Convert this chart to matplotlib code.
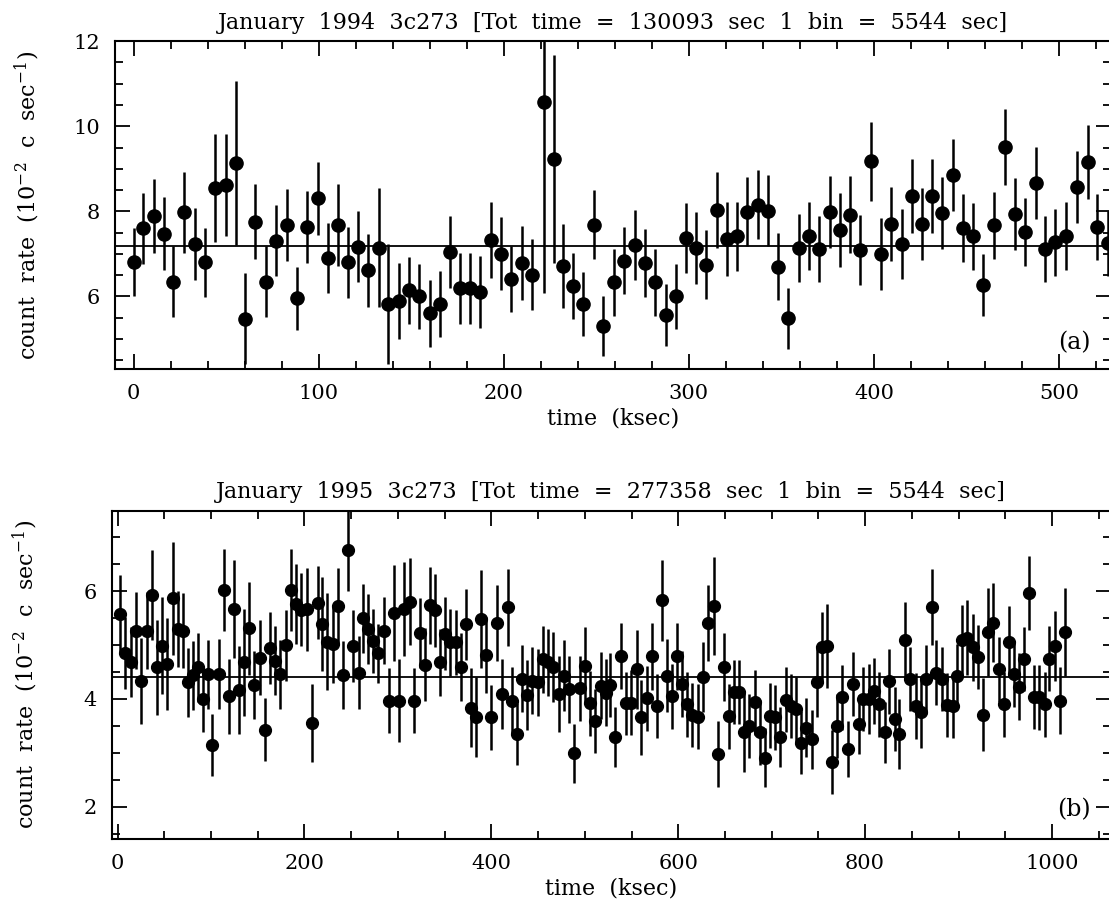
import matplotlib
matplotlib.use("Agg")
import matplotlib.pyplot as plt
from matplotlib.ticker import MultipleLocator

plt.rcParams["font.family"] = ["DejaVu Serif"]
plt.rcParams["mathtext.fontset"] = "dejavuserif"

# --- January 1994 light curve (ksec, 1e-2 c/s) ---
t_94 = [0.0, 5.1, 10.8, 16.2, 21.6, 27.4, 33.2, 38.6, 44.0, 49.7,
        55.4, 60.0, 65.8, 71.6, 77.1, 82.7, 88.3, 93.9, 99.5, 105.1,
        110.5, 115.7, 121.1, 126.7, 132.4, 137.3, 143.2, 148.9, 154.4, 160.0,
        165.4, 171.2, 176.6, 182.0, 187.4, 193.2, 198.6, 204.0, 209.7, 215.1,
        221.6, 227.0, 232.1, 237.5, 242.9, 248.6, 253.7, 259.5, 265.2, 270.8,
        276.2, 281.6, 287.4, 292.8, 298.6, 304.0, 309.4, 315.0, 320.4, 325.8,
        331.6, 337.3, 342.9, 348.1, 353.5, 359.3, 364.9, 370.5, 376.1, 381.6,
        387.0, 392.4, 398.6, 403.6, 409.4, 415.0, 420.8, 426.2, 431.6, 437.0,
        442.7, 448.1, 453.7, 459.1, 464.9, 470.8, 476.2, 481.6, 487.4, 492.4,
        497.8, 503.6, 509.6, 515.4, 520.4, 526.2]
rate_94 = [6.80, 7.60, 7.88, 7.47, 6.35, 7.98, 7.23, 6.80, 8.54, 8.62,
           9.14, 5.48, 7.76, 6.35, 7.31, 7.68, 5.96, 7.63, 8.31, 6.90,
           7.68, 6.80, 7.17, 6.61, 7.15, 5.82, 5.89, 6.14, 6.00, 5.60,
           5.82, 7.04, 6.19, 6.19, 6.11, 7.33, 7.00, 6.41, 6.78, 6.51,
           10.58, 9.23, 6.71, 6.24, 5.82, 7.69, 5.31, 6.33, 6.84, 7.21,
           6.78, 6.33, 5.56, 6.00, 7.37, 7.14, 6.75, 8.04, 7.35, 7.41,
           7.99, 8.16, 8.02, 6.70, 5.49, 7.14, 7.41, 7.12, 7.98, 7.56,
           7.92, 7.09, 9.18, 7.00, 7.70, 7.23, 8.35, 7.70, 8.35, 7.96,
           8.86, 7.60, 7.41, 6.27, 7.67, 9.51, 7.94, 7.51, 8.66, 7.12,
           7.27, 7.41, 8.57, 9.16, 7.63, 7.25]
err_94 = [0.80, 0.83, 0.87, 0.86, 0.84, 0.95, 0.84, 0.82, 1.27, 1.20,
          1.93, 1.08, 0.88, 0.84, 0.84, 0.84, 0.74, 0.84, 0.86, 0.82,
          0.96, 0.84, 0.83, 0.85, 1.41, 1.42, 0.90, 0.78, 0.76, 0.78,
          0.78, 0.85, 0.83, 0.84, 0.85, 0.90, 0.86, 0.78, 0.87, 0.84,
          4.50, 2.45, 0.99, 0.78, 0.76, 0.81, 0.71, 0.79, 0.79, 0.82,
          0.80, 0.79, 0.73, 0.76, 0.83, 0.84, 0.82, 0.89, 0.86, 0.82,
          0.81, 0.81, 0.84, 0.79, 0.72, 0.80, 0.80, 0.78, 0.84, 0.87,
          0.90, 0.83, 0.93, 0.84, 0.87, 0.83, 0.87, 0.84, 0.87, 0.84,
          0.84, 0.80, 0.79, 0.73, 0.78, 0.90, 0.85, 0.80, 0.85, 0.78,
          0.79, 0.80, 0.85, 0.86, 0.78, 0.76]
mean_94 = 7.19

# --- January 1995 light curve ---
t_95 = [2.6, 7.9, 14.4, 19.7, 25.1, 31.1, 36.5, 41.9, 47.2, 53.3,
        59.0, 64.3, 70.4, 75.1, 81.1, 86.5, 91.1, 97.2, 101.5, 108.6,
        114.0, 119.3, 124.7, 130.1, 135.8, 141.1, 146.5, 152.6, 157.9, 163.3,
        168.6, 174.0, 180.1, 185.8, 191.1, 196.5, 202.5, 207.9, 214.0, 219.3,
        224.0, 230.4, 235.4, 240.8, 246.5, 251.8, 257.9, 262.3, 268.0, 273.0,
        278.7, 284.8, 290.1, 295.5, 300.8, 306.9, 312.6, 317.6, 324.0, 328.7,
        334.0, 340.1, 344.7, 350.1, 356.2, 362.2, 367.6, 373.3, 378.3, 383.7,
        389.4, 394.7, 400.1, 406.2, 411.5, 417.6, 422.2, 427.6, 433.0, 438.3,
        443.7, 450.1, 455.1, 460.8, 466.2, 472.2, 477.6, 483.0, 488.3, 494.4,
        500.1, 505.4, 510.8, 516.9, 522.2, 526.8, 532.2, 538.3, 543.6, 549.7,
        555.4, 560.4, 566.1, 571.5, 576.8, 582.9, 588.3, 593.6, 599.0, 604.3,
        609.7, 615.0, 621.5, 626.5, 632.2, 638.3, 642.9, 649.0, 654.3, 659.7,
        665.0, 670.4, 675.8, 681.8, 687.2, 692.5, 698.3, 703.6, 709.0, 715.0,
        720.4, 726.5, 731.1, 736.5, 742.9, 748.2, 753.6, 759.7, 765.0, 770.4,
        775.7, 781.8, 787.2, 793.0, 797.2, 803.7, 809.7, 815.1, 821.2, 825.8,
        831.9, 836.5, 843.0, 848.3, 854.4, 859.7, 865.1, 871.2, 875.8, 881.9,
        887.2, 893.7, 898.3, 903.7, 909.0, 915.1, 921.2, 925.8, 931.9, 937.2,
        942.9, 948.3, 953.7, 959.0, 965.1, 970.4, 975.8, 981.1, 986.5, 992.9,
        997.2, 1003.3, 1009.0, 1014.4]
rate_95 = [5.58, 4.85, 4.69, 5.27, 4.33, 5.27, 5.93, 4.59, 4.99, 4.65,
           5.87, 5.30, 5.27, 4.31, 4.44, 4.59, 4.00, 4.46, 3.15, 4.46,
           6.02, 4.05, 5.67, 4.17, 4.68, 5.31, 4.26, 4.77, 3.43, 4.95,
           4.71, 4.46, 5.00, 6.03, 5.76, 5.66, 5.67, 3.55, 5.79, 5.39,
           5.06, 5.02, 5.73, 4.45, 6.77, 4.99, 4.49, 5.50, 5.30, 5.08,
           4.85, 5.27, 3.97, 5.59, 3.97, 5.67, 5.81, 3.97, 5.22, 4.64,
           5.74, 5.65, 4.68, 5.21, 5.05, 5.05, 4.59, 5.39, 3.84, 3.67,
           5.48, 4.82, 3.66, 5.41, 4.09, 5.70, 3.97, 3.35, 4.38, 4.08,
           4.34, 4.31, 4.74, 4.68, 4.60, 4.09, 4.43, 4.18, 2.99, 4.20,
           4.62, 3.92, 3.59, 4.25, 4.12, 4.26, 3.30, 4.80, 3.92, 3.93,
           4.55, 3.66, 4.01, 4.79, 3.87, 5.83, 4.43, 4.05, 4.79, 4.28,
           3.90, 3.70, 3.67, 4.40, 5.41, 5.73, 2.98, 4.59, 3.68, 4.13,
           4.13, 3.38, 3.50, 3.94, 3.38, 2.91, 3.69, 3.66, 3.30, 3.99,
           3.87, 3.81, 3.19, 3.47, 3.25, 4.32, 4.96, 4.99, 2.83, 3.50,
           4.03, 3.07, 4.28, 3.53, 4.00, 4.00, 4.15, 3.90, 3.38, 4.33,
           3.63, 3.35, 5.09, 4.37, 3.87, 3.75, 4.37, 5.71, 4.49, 4.37,
           3.89, 3.87, 4.42, 5.09, 5.14, 4.96, 4.78, 3.71, 5.24, 5.42,
           4.55, 3.90, 5.06, 4.46, 4.23, 4.74, 5.97, 4.04, 4.03, 3.90,
           4.75, 4.98, 3.97, 5.25]
err_95 = [0.72, 0.67, 0.65, 0.72, 0.80, 0.72, 0.84, 0.88, 0.90, 0.85,
          1.05, 0.70, 0.70, 0.64, 0.64, 0.64, 0.62, 0.64, 0.58, 0.65,
          0.76, 0.70, 0.91, 0.82, 1.00, 0.86, 0.63, 0.70, 0.58, 0.67,
          0.64, 0.64, 0.66, 0.76, 0.74, 0.68, 0.77, 0.72, 0.68, 0.87,
          0.90, 0.72, 0.71, 0.63, 0.76, 0.67, 0.68, 0.64, 0.65, 0.60,
          0.55, 0.62, 0.61, 0.89, 0.77, 0.88, 0.80, 0.60, 0.65, 0.67,
          0.71, 0.68, 0.62, 0.68, 0.63, 0.60, 0.63, 0.66, 0.73, 0.74,
          0.91, 0.70, 0.60, 0.70, 0.65, 0.72, 0.62, 0.58, 0.62, 0.65,
          0.62, 0.62, 0.62, 0.62, 0.65, 0.70, 0.66, 0.62, 0.55, 0.60,
          0.72, 0.60, 0.60, 0.62, 0.62, 0.60, 0.56, 0.62, 0.58, 0.60,
          0.74, 0.70, 0.60, 0.62, 0.60, 0.75, 0.68, 0.60, 0.63, 0.62,
          0.60, 0.60, 0.60, 0.65, 0.70, 0.91, 0.62, 0.63, 0.60, 0.60,
          0.60, 0.74, 0.60, 0.60, 0.60, 0.55, 0.60, 0.60, 0.56, 0.60,
          0.60, 0.60, 0.58, 0.55, 0.55, 0.65, 0.65, 0.78, 0.60, 0.60,
          0.60, 0.52, 0.60, 0.55, 0.60, 0.65, 0.62, 0.60, 0.56, 0.60,
          0.60, 0.65, 0.71, 0.60, 0.62, 0.66, 0.64, 0.71, 0.60, 0.60,
          0.60, 0.60, 0.60, 0.65, 0.70, 0.62, 0.60, 0.68, 0.82, 0.74,
          0.60, 0.60, 0.66, 0.60, 0.62, 0.60, 0.69, 0.60, 0.60, 0.60,
          0.60, 0.65, 0.62, 0.82]
mean_95 = 4.40

titles = ["January  1994  3c273  [Tot  time  =  130093  sec  1  bin  =  5544  sec]",
          "January  1995  3c273  [Tot  time  =  277358  sec  1  bin  =  5544  sec]"]
panel_tags = ["(a)", "(b)"]
xlabel = "time  (ksec)"
ylabel = "count  rate  (10$^{-2}$  c  sec$^{-1}$)"


def style_axis(ax, xmaj, xmin, ymaj, ymin, ylab_x):
    ax.xaxis.set_major_locator(MultipleLocator(xmaj))
    ax.xaxis.set_minor_locator(MultipleLocator(xmin))
    ax.yaxis.set_major_locator(MultipleLocator(ymaj))
    ax.yaxis.set_minor_locator(MultipleLocator(ymin))
    ax.tick_params(which="both", direction="in", top=True, right=True,
                   width=1.3, labelsize=15)
    ax.tick_params(which="major", length=11, pad=11)
    ax.tick_params(which="minor", length=6)
    for s in ax.spines.values():
        s.set_linewidth(1.5)
    ax.set_xlabel(xlabel, fontsize=16, labelpad=3)
    ax.set_ylabel(ylabel, fontsize=16)
    ax.yaxis.set_label_coords(ylab_x, 0.5)


fig = plt.figure(figsize=(11.09, 9.06), dpi=100)
ax1 = fig.add_axes([0.1037, 0.593, 0.898, 0.3615])
ax2 = fig.add_axes([0.1007, 0.0740, 0.901, 0.3625])

ax1.errorbar(t_94, rate_94, yerr=err_94, fmt="o", color="black", ms=9.5,
             elinewidth=1.8, capsize=0)
ax1.axhline(mean_94, color="black", lw=1.3)
ax1.set_xlim(-10, 528)
ax1.set_ylim(4.3, 12)
style_axis(ax1, 100, 20, 2, 0.5, -0.073)
ax1.set_title(titles[0], fontsize=16, pad=9)
ax1.text(0.963, 0.08, panel_tags[0], transform=ax1.transAxes, fontsize=17,
         ha="center", va="center")

ax2.errorbar(t_95, rate_95, yerr=err_95, fmt="o", color="black", ms=8.5,
             elinewidth=1.8, capsize=0)
ax2.axhline(mean_95, color="black", lw=1.3)
ax2.set_xlim(-6.3, 1063)
ax2.set_ylim(1.4, 7.5)
style_axis(ax2, 200, 50, 2, 0.5, -0.072)
ax2.set_title(titles[1], fontsize=16, pad=9)
ax2.text(0.963, 0.088, panel_tags[1], transform=ax2.transAxes, fontsize=17,
         ha="center", va="center")

fig.savefig("out.png", dpi=100)
